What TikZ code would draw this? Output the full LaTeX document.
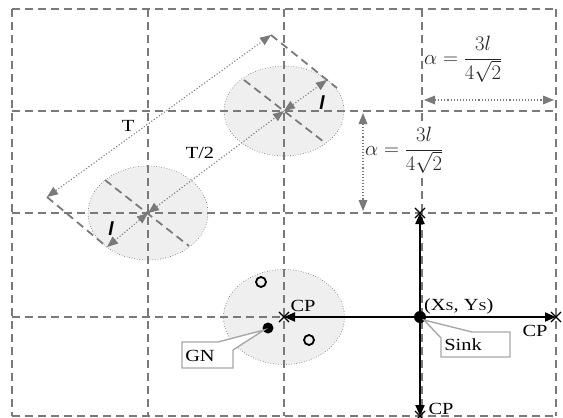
\documentclass[tikz,border=0pt]{standalone}
\usepackage{fontspec}
\setmainfont{Liberation Serif}
\newfontfamily\arialfont{Liberation Sans}
\usetikzlibrary{arrows.meta,shapes.misc,shapes.geometric}
\definecolor{gridgray}{HTML}{7A7A7A}
\definecolor{ellfill}{HTML}{EFEFEF}
\definecolor{ellline}{HTML}{606060}
\definecolor{callgray}{HTML}{A8A8A8}
\definecolor{tipgray}{HTML}{7A7A7A}
\newcommand{\wtext}[1]{\scalebox{1.2}[1]{#1}}
\tikzset{
  gridline/.style={draw=gridgray, line width=1.8pt, dash pattern=on 8pt off 5pt},
  zone/.style={ellipse, draw=ellline, fill=ellfill, line width=0.6pt, dotted, inner sep=0pt},
  dimarrow/.style={draw=tipgray, line width=1.1pt, dotted, {Triangle[length=11pt,width=9pt,fill=tipgray,line width=0pt]}-{Triangle[length=11pt,width=9pt,fill=tipgray,line width=0pt]}},
  extline/.style={draw=gridgray, line width=1.8pt, dash pattern=on 8pt off 5pt},
  cparrow/.style={draw=black, line width=2pt, -{Triangle[length=11pt,width=9pt]}},
  cpmark/.style={cross out, draw=black, line width=1.1pt, minimum size=9pt, inner sep=0pt},
  lbl/.style={font=\fontsize{17}{20}\selectfont, inner sep=0pt},
  callout/.style={draw=callgray, fill=white, line width=1.4pt},
  hollow/.style={circle, draw=black, line width=1.8pt, minimum size=10pt, inner sep=0pt},
  solid dot/.style={circle, fill=black, minimum size=12pt, inner sep=0pt},
  ltext/.style={font=\arialfont\itshape\bfseries\fontsize{19}{21}\selectfont, inner sep=0pt},
  alpha/.style={font=\fontsize{20}{22}\selectfont, text=black!85, inner sep=1pt}
}
\begin{document}
\begin{tikzpicture}[x=1pt,y=-1pt]
\useasboundingbox (0,0) rectangle (563,418);
% zones
\node[zone, minimum width=120pt, minimum height=90pt] (e1) at (284,111) {};
\node[zone, minimum width=120pt, minimum height=94pt] (e2) at (148,213) {};
\node[zone, minimum width=121pt, minimum height=95pt] (e3) at (284,317) {};
% grid
\foreach \x in {12,148,284,422,556} \draw[gridline] (\x,9) -- (\x,416);
\foreach \y in {9,111,213,317,416} \draw[gridline] (12,\y) -- (556,\y);
% coordinates
\coordinate (c1) at (284,111);
\coordinate (c2) at (148,213);
\coordinate (l1) at (327,80);
\coordinate (l2) at (107,247);
\coordinate (Ta) at (47,197);
\coordinate (Tb) at (271,35);
\coordinate (x1) at (337,88);
\coordinate (d1a) at (244,80);
\coordinate (d1b) at (324,142);
\coordinate (d2a) at (105,180);
\coordinate (d2b) at (189,246);
% dashed diameters and extension lines
\draw[extline] (d1a) -- (d1b);
\draw[extline] (d2a) -- (d2b);
\draw[extline] (Tb) -- (x1);
\draw[extline] (Ta) -- (l2);
% dimension arrows
\draw[dimarrow] (Ta) -- (Tb);
\draw[dimarrow] (c2) -- (c1);
\draw[dimarrow] (c1) -- (l1);
\draw[dimarrow] (c2) -- (l2);
\node[lbl] (tT) at (128,126) {\wtext{T}};
\node[lbl] (tT2) at (200,153) {\wtext{T/2}};
\node[ltext] (tl1) at (322,103) {l};
\node[ltext] (tl2) at (111,229) {l};
% alpha
\coordinate (ah1) at (424,100);
\coordinate (ah2) at (554,100);
\draw[dimarrow] (ah1) -- (ah2);
\coordinate (av1) at (363,113);
\coordinate (av2) at (363,211);
\draw[dimarrow] (av1) -- (av2);
\node[alpha, anchor=west] (al1) at (423,59) {$\displaystyle\alpha = \frac{3l}{4\sqrt{2}}$};
\node[alpha, fill=white, anchor=west] (al2) at (364,150) {$\displaystyle\alpha = \frac{3l}{4\sqrt{2}}$};
% sink and CPs
\node[cpmark] (cpT) at (420,213) {};
\node[cpmark] (cpL) at (284,317) {};
\node[cpmark] (cpR) at (556,317) {};
\node[cpmark] (cpB) at (420,416) {};
\node[solid dot] (sink) at (420,317) {};
\draw[cparrow] (sink.center) -- (cpT.center);
\draw[cparrow] (sink.center) -- (cpL.center);
\draw[cparrow] (sink.center) -- (cpR.center);
\draw[cparrow] (sink.center) -- (cpB.center);
\node[lbl] (cpLt) at (303,306) {\wtext{CP}};
\node[lbl] (cpRt) at (535,331) {\wtext{CP}};
\node[lbl] (cpBt) at (441,409) {\wtext{CP}};
\node[lbl, anchor=west] (xy) at (424,306) {\wtext{(X{\fontsize{12}{13}\selectfont S}, Y{\fontsize{12}{13}\selectfont S})}};
% nodes in zone 3
\node[hollow] (h1) at (261,282) {};
\node[hollow] (h2) at (309,340) {};
\node[solid dot, minimum size=11pt] (gn) at (268,328) {};
% callouts
\draw[callout] (441,357) -- (441,338) -- (424,320) -- (472,332) -- (510,332) -- (510,357) -- cycle;
\node[lbl] (sinkt) at (463,345) {\wtext{Sink}};
\draw[callout] (182,342) -- (218,342) -- (264,330) -- (233,350) -- (233,368) -- (182,368) -- cycle;
\node[lbl] (gnt) at (200,356) {\wtext{GN}};
\end{tikzpicture}
\end{document}
